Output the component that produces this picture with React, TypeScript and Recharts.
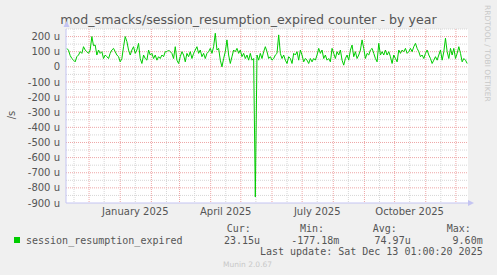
import React from 'react';
import { LineChart, Line, XAxis, YAxis, CartesianGrid } from 'recharts';

const START = Date.UTC(2024, 10, 8, 1, 0, 20);
const END = Date.UTC(2025, 11, 13, 1, 0, 20);

// session_resumption_expired in u/s, oldest first
const expired = [
  122, 110, 75, 55, 44, 33, 67, 78, 100, 89,
  133, 111, 100, 89, 111, 200, 140, 144, 78, 111,
  89, 100, 55, 78, 67, 55, 89, 111, 122, 100,
  78, 67, 33, 55, 133, 200, 167, 111, 78, 111,
  133, 89, 111, 155, 55, 22, 78, 55, 44, 111,
  78, 89, 55, 78, 44, 67, 55, 78, 67, 100,
  100, 111, 100, 89, 55, 133, 44, 22, 67, 100,
  78, 33, 89, 67, 100, 55, 89, 111, 133, 89,
  111, 67, 89, 55, 89, 100, 122, 89, 133, 222,
  111, 122, 44, 0, 55, 100, 178, 78, 22, 67,
  111, 100, 122, 89, 111, 67, 89, 55, 78, 44,
  89, 44, 55, -860, 78, 44, 89, 55, 100, 133,
  100, 55,
  67, 44, 55, 78, 89, 211, 89, 55, 78, 44,
  22, 67, 55, 22, 89, 78, 100, 44, 111, 78,
  33, 55, 44, 22, 55, 33, 55, 44, 78, 122,
  89, 111, 55, 78, 44, 55, 33, 122, 89, 55,
  100, 78, 111, 44, 11, 55, 78, 44, 111, 144,
  67, 100, 55, 78, 111, 178, 122, 55, 89, 78,
  111, 122,
  89, 55, 33, 155, 78, 100, 78, 111, 78, 100,
  67, 22, 78, 55, 33, 111, 89, 111, 100, 122,
  89, 100, 122, 100, 133, 155, 122, 100, 67, 78,
  55, 89, 111, 78, 55, 22, 44, 67, 44, 78,
  111, 44, 100, 189, 100, 55, 122, 78, 122, 55,
  89, 133, 89, 33, 55, 44, 22,
];

const yLabels = [200, 100, 0, -100, -200, -300, -400, -500, -600, -700, -800, -900];
const yMajor = [200, 100, 0, -100, -200, -300, -400, -500, -600, -700, -800];
const yMinor = [250, 150, 50, -50, -150, -250, -350, -450, -550, -650, -750, -850];

const monthStarts = [
  '2024-12-01', '2025-01-01', '2025-02-01', '2025-03-01', '2025-04-01', '2025-05-01', '2025-06-01',
  '2025-07-01', '2025-08-01', '2025-09-01', '2025-10-01', '2025-11-01', '2025-12-01',
];
const midMonths = [
  '2024-11-16', '2024-12-16', '2025-01-16', '2025-02-16', '2025-03-16', '2025-04-16', '2025-05-16',
  '2025-06-16', '2025-07-16', '2025-08-16', '2025-09-16', '2025-10-16', '2025-11-16',
];
const labelDays = ['2025-01-16', '2025-04-16', '2025-07-16', '2025-10-16'];
const MONTHS = [
  'January', 'February', 'March', 'April', 'May', 'June',
  'July', 'August', 'September', 'October', 'November', 'December',
];

const legendHeads = ['Cur:', 'Min:', 'Avg:', 'Max:'];
const legendValues = ['23.15u', '-177.18m', '74.97u', '9.60m'];

const toTime = (d: string) => Date.parse(d + 'T00:00:00Z');
const step = (END - START) / expired.length;
const data = expired.map((v, i) => ({ t: START + (i + 0.5) * step, v }));

const TEXT = '#555';
const SANS = 'DejaVu Sans';
const MONO = 'DejaVu Sans Mono';
const AXIS = '#c4c4f2';

export default function App() {
  return (
    <div style={{ position: 'absolute', left: 0, top: 0, width: 497, height: 275, background: '#f0f0f0' }}>
      <LineChart width={497} height={275} data={data} margin={{ top: 29, right: 29, bottom: 0, left: 0 }}>
        <CartesianGrid
          fill="#fff"
          stroke="#d6d6d6"
          strokeDasharray="1 1"
          horizontalValues={yMinor}
          verticalValues={midMonths.map(toTime)}
        />
        <CartesianGrid
          stroke="#eea6a6"
          strokeDasharray="1 1"
          horizontalValues={yMajor}
          verticalValues={monthStarts.map(toTime)}
        />
        <XAxis
          dataKey="t"
          type="number"
          domain={[START, END]}
          ticks={labelDays.map(toTime)}
          interval={0}
          height={72}
          tickSize={0}
          tickMargin={5}
          axisLine={{ stroke: AXIS }}
          tick={{ fontSize: 10, fill: TEXT, fontFamily: SANS }}
          tickFormatter={(t: number) => {
            const d = new Date(t);
            return `${MONTHS[d.getUTCMonth()]} ${d.getUTCFullYear()}`;
          }}
        />
        <YAxis
          type="number"
          domain={[-900, 250]}
          ticks={yLabels}
          interval={0}
          width={66}
          tickSize={0}
          tickMargin={6}
          axisLine={{ stroke: AXIS }}
          tick={{ fontSize: 10, fill: TEXT, fontFamily: SANS }}
          tickFormatter={(v: number) => (v === 0 ? '0' : `${v} u`)}
        />
        <Line
          type="linear"
          dataKey="v"
          stroke="#00cc00"
          strokeWidth={1}
          dot={false}
          isAnimationActive={false}
        />
      </LineChart>
      <svg width={497} height={275} style={{ position: 'absolute', left: 0, top: 0, pointerEvents: 'none' }}>
        <text x={248.5} y={24} textAnchor="middle" fontSize={12.6} fill={TEXT} fontFamily={SANS}>
          mod_smacks/session_resumption_expired counter - by year
        </text>
        <text transform="translate(15,115) rotate(-90)" textAnchor="middle" fontSize={10} fill={TEXT} fontFamily={SANS}>
          /s
        </text>
        <text transform="translate(485,5) rotate(90)" fontSize={7.5} fill="#c8c8c8" fontFamily={SANS}>
          RRDTOOL / TOBI OETIKER
        </text>
        <polygon points="63.5,27 66.5,21 69.5,27" fill={AXIS} />
        <polygon points="468,200 474,203 468,206" fill={AXIS} />
        <rect x={14} y={237} width={6} height={6} fill="#00cc00" />
        <text x={26} y={243.5} fontSize={10} fill={TEXT} fontFamily={MONO}>session_resumption_expired</text>
        {legendHeads.map((h, i) => (
          <text key={h} x={[226.7, 300, 372.7, 446.7][i]} y={231.5} fontSize={10} fill={TEXT} fontFamily={MONO}>{h}</text>
        ))}
        {legendValues.map((v, i) => (
          <text key={v} x={[260, 339.3, 410.7, 482.7][i]} y={243.5} textAnchor="end" fontSize={10} fill={TEXT} fontFamily={MONO}>{v}</text>
        ))}
        <text x={482.7} y={255} textAnchor="end" fontSize={10} fill={TEXT} fontFamily={MONO}>
          Last update: Sat Dec 13 01:00:20 2025
        </text>
        <text x={223} y={267} fontSize={7.5} fill="#c8c8c8" fontFamily={SANS}>Munin 2.0.67</text>
      </svg>
    </div>
  );
}
